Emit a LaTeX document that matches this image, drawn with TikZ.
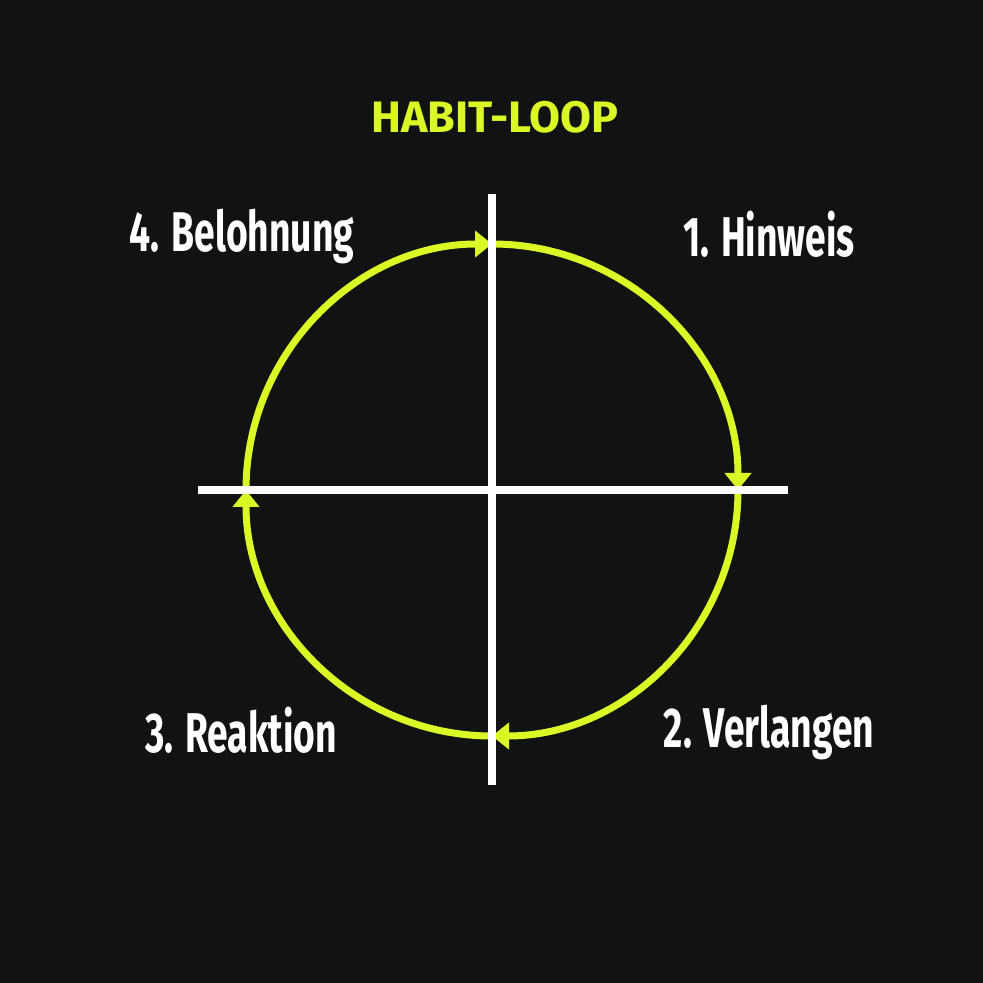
\documentclass[tikz,border=0pt]{standalone}
\usepackage{fontspec}
\usetikzlibrary{arrows.meta}
\newfontfamily\loopfont[FakeStretch=0.665]{Fira Sans}
\newfontfamily\titlefont[FakeStretch=1.02]{Fira Sans}
\definecolor{loopyellow}{RGB}{218,248,38}
\definecolor{loopbg}{RGB}{18,18,18}

\begin{document}
\begin{tikzpicture}[x=1pt, y=1pt,
    steplabel/.style={anchor=base, text=white, font=\loopfont\bfseries\fontsize{56}{56}\selectfont},
    looparc/.style={loopyellow, line width=7pt, -{Triangle[length=17pt, width=26pt]}},
    axisline/.style={white, line width=8pt}]
    \fill[loopbg] (0, 0) rectangle (983, 983);

    \coordinate (c) at (492, 493);
    \coordinate (n) at (492, 789);
    \coordinate (s) at (492, 198);
    \coordinate (w) at (198, 493);
    \coordinate (e) at (788, 493);

    \coordinate (top)   at (492, 739);
    \coordinate (right) at (738, 493);
    \coordinate (bot)   at (492, 247);
    \coordinate (left)  at (246, 493);

    \node[anchor=base, text=loopyellow, font=\titlefont\bfseries\fontsize{44}{44}\selectfont] at (495, 850) (title) {HABIT-LOOP};

    \node[steplabel] at (769, 726) (cue)     {1. Hinweis};
    \node[steplabel] at (769, 235) (craving) {2. Verlangen};
    \node[steplabel] at (241, 230) (resp)    {3. Reaktion};
    \node[steplabel] at (242, 731) (reward)  {4. Belohnung};

    \draw[looparc] (left)  arc[start angle=180, end angle=90,   radius=246];
    \draw[looparc] (top)   arc[start angle=90,  end angle=0,    radius=246];
    \draw[looparc] (right) arc[start angle=0,   end angle=-90,  radius=246];
    \draw[looparc] (bot)   arc[start angle=-90, end angle=-180, radius=246];

    \draw[axisline] (n) -- (s);
    \draw[axisline] (w) -- (e);
\end{tikzpicture}
\end{document}
